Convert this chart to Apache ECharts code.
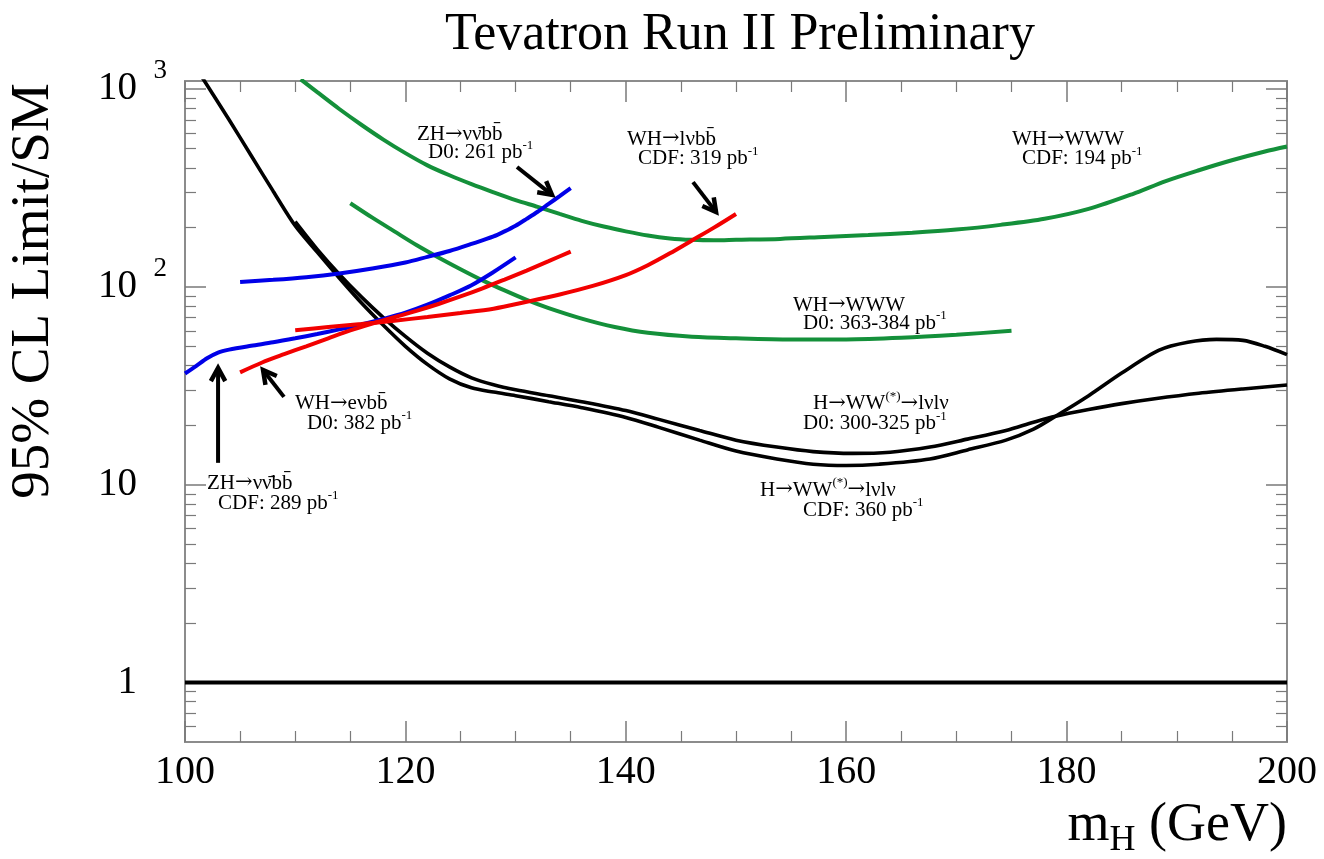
<!DOCTYPE html>
<html>
<head>
<meta charset="utf-8">
<script src="https://cdn.jsdelivr.net/npm/echarts@6.0.0/dist/echarts.min.js"></script>
<style>
  html, body { margin: 0; padding: 0; background: #ffffff; }
  #chart { width: 1324px; height: 859px; }
</style>
</head>
<body>
<div id="chart"></div>
<script>
// ---- Limit curves: Higgs mass (GeV) and 95% CL limit / SM ----
const massCdfHww  = [101.5, 104, 106, 108, 110, 112, 114, 116, 118, 120, 122, 124, 126, 128, 130, 133, 136, 140, 143, 146.7, 150, 153.7, 157, 160, 163, 167.6, 171, 174.5, 177, 179, 182, 185, 188.4, 191, 193.6, 196, 198, 200];
const limitCdfHww = [1160, 700, 462, 305, 204, 150, 111, 83.2, 64, 50.1, 40.6, 34.3, 30.9, 29.4, 28.2, 26.3, 24.5, 21.9, 19.5, 16.8, 14.8, 13.5, 12.7, 12.5, 12.7, 13.5, 15.0, 16.8, 19.1, 22.2, 28.2, 36.7, 47.9, 52.5, 54.3, 53.7, 50.1, 45.5];

const massD0Hww  = [110, 112, 114, 116, 118, 120, 122, 124, 126, 128, 130, 133, 136, 140, 143, 146.7, 150, 153.7, 157, 160.6, 164, 167.6, 171, 174.5, 177, 179, 182, 185, 188, 192, 196, 200];
const limitD0Hww = [214, 155, 116, 89.1, 70.0, 56.2, 46.2, 39.4, 34.7, 32.0, 30.2, 28.2, 26.3, 23.7, 21.4, 18.8, 16.8, 15.5, 14.7, 14.4, 14.6, 15.5, 17.0, 18.8, 20.7, 22.2, 24.0, 25.7, 27.2, 29.0, 30.5, 31.9];

const massCdfWww  = [110.5, 112, 114, 116, 118, 120, 122, 124, 126, 128, 130, 132, 134, 136, 138, 140, 142, 144, 146, 148, 150, 154, 158, 162, 166, 170, 174, 178, 182, 186, 189, 192, 195, 198, 200];
const limitCdfWww = [1122, 966, 794, 661, 556, 475, 412, 367, 331, 301, 275, 254, 234, 216, 202, 191, 182, 176, 173, 172, 173, 175, 179, 183, 188, 195, 206, 221, 248, 295, 343, 389, 437, 484, 513];

const massD0Www  = [115, 117, 119, 121, 123, 125, 127, 129, 131, 133, 136, 139, 142, 146, 150, 155, 160, 165, 170, 175];
const limitD0Www = [265, 224, 191, 163, 141, 123, 108, 96, 86, 78.2, 69.2, 62.7, 58.6, 56, 55, 54.3, 54.3, 55.3, 57.3, 60];

const massD0Zh  = [105, 108, 111, 114, 117, 120, 122, 124, 126, 128, 129, 130, 131, 132, 133, 134, 135];
const limitD0Zh = [106, 108.6, 112, 117, 124, 133, 142, 152, 165, 180, 191, 204, 221, 240, 263, 288, 316];

const massCdfZh  = [100, 101, 102, 103, 104, 106, 108, 110, 112, 114, 116, 118, 120, 122, 124, 126, 128, 130];
const limitCdfZh = [36.5, 39.8, 43.6, 46.6, 48.2, 50.4, 52.5, 55, 57.8, 61, 64.6, 68.9, 74.1, 81.3, 90.6, 102, 119, 141];

const massCdfWh  = [110, 113, 116, 119, 122, 125, 128, 131, 134, 137, 140, 142, 144, 146, 148, 150];
const limitCdfWh = [60.4, 62.7, 64.9, 67.5, 70.5, 73.8, 77.6, 84.1, 91.6, 101.2, 114.8, 128.8, 147.9, 171.8, 199.5, 233.9];

const massD0Wh  = [105, 107, 109, 111, 113, 115, 117, 119, 121, 123, 125, 127, 129, 131, 133, 135];
const limitD0Wh = [37, 41.5, 45.7, 50.1, 55, 60.3, 65.3, 70.3, 75.7, 82, 89.5, 98.4, 109, 121, 135, 151];

// Standard Model reference line
const massSm  = [100, 200];
const limitSm = [1, 1];

// ---- Axis ticks ----
const xTickStep = 20;
const yMajorTicks = [1, 10, 100, 1000];
const yMinorTicks = [0.6, 0.7, 0.8, 0.9, 2, 3, 4, 5, 6, 7, 8, 9, 20, 30, 40, 50, 60, 70, 80, 90, 200, 300, 400, 500, 600, 700, 800, 900];

// ---- Annotations (anchored in mass / limit coordinates) ----
const NUBAR = 'ν\u0304';
const BBAR = 'b\u0304';
const AR = '{ar|→}';
const noteText = [
  'ZH' + AR + 'ν' + NUBAR + 'b' + BBAR, 'D0: 261 pb{sup|-1}',
  'WH' + AR + 'lνb' + BBAR, 'CDF: 319 pb{sup|-1}',
  'WH' + AR + 'WWW', 'CDF: 194 pb{sup|-1}',
  'WH' + AR + 'WWW', 'D0: 363-384 pb{sup|-1}',
  'H' + AR + 'WW{sup|(*)}' + AR + 'lνlν', 'D0: 300-325 pb{sup|-1}',
  'H' + AR + 'WW{sup|(*)}' + AR + 'lνlν', 'CDF: 360 pb{sup|-1}',
  'WH' + AR + 'eνb' + BBAR, 'D0: 382 pb{sup|-1}',
  'ZH' + AR + 'ν' + NUBAR + 'b' + BBAR, 'CDF: 289 pb{sup|-1}'
];
const noteMass  = [121.05, 122.05, 140.11, 141.11, 175.05, 175.95, 155.17, 156.08, 156.99, 156.08, 152.18, 156.08, 109.98, 111.07, 102.0, 103.0];
const noteLimit = [590, 476, 560, 444, 560, 444, 81, 65.7, 25.6, 20.3, 9.4, 7.45, 25.6, 20.5, 10.2, 8.08];

const arrowFromMass  = [130.13, 146.10, 108.98, 103.0];
const arrowFromLimit = [404, 339, 27.8, 12.9];
const arrowToMass    = [133.30, 148.19, 107.08, 103.0];
const arrowToLimit   = [292, 239, 38.0, 38.9];

// ---- Styling ----
const FONT = '"Liberation Serif", "Times New Roman", "DejaVu Serif", serif';
const ARROW_FONT = '"DejaVu Serif", "Liberation Serif", serif';
const GREEN = '#14903a';
const BLUE = '#0000e8';
const RED = '#f20000';
const BLACK = '#000000';
const TICK_COLOR = '#7a7a7a';

const zip = (xs, ys) => xs.map((x, i) => [x, ys[i]]);

function curve(name, xs, ys, color, width) {
  return {
    type: 'line',
    name: name,
    data: zip(xs, ys),
    symbol: 'none',
    showSymbol: false,
    smooth: 0.3,
    clip: true,
    silent: true,
    lineStyle: { color: color, width: width || 4 },
    z: 3
  };
}

function xAxisDef(position, showLabel) {
  return {
    type: 'value',
    position: position,
    min: 100,
    max: 200,
    interval: xTickStep,
    axisLine: { show: false },
    axisTick: { inside: true, length: 21, lineStyle: { color: TICK_COLOR, width: 1.5 } },
    minorTick: { show: true, splitNumber: 4, length: 11, lineStyle: { color: TICK_COLOR, width: 1.2 } },
    splitLine: { show: false },
    minorSplitLine: { show: false },
    axisLabel: {
      show: showLabel,
      fontFamily: FONT,
      fontSize: 40,
      color: '#000',
      margin: 10
    }
  };
}

function yLabel(v) {
  const e = Math.round(Math.log10(v));
  if (e >= 2) return '{b|10}{e|' + e + '}';
  return '{b|' + Math.round(v) + '}{e| }';
}

function yAxisDef(position, ticks, length, showLabel) {
  return {
    type: 'log',
    logBase: 10,
    position: position,
    min: 0.5,
    max: 1100,
    axisLine: { show: false },
    axisTick: {
      inside: true,
      length: length,
      customValues: ticks,
      lineStyle: { color: TICK_COLOR, width: length > 15 ? 1.5 : 1.2 }
    },
    minorTick: { show: false },
    splitLine: { show: false },
    axisLabel: showLabel ? {
      show: true,
      customValues: yMajorTicks,
      formatter: yLabel,
      margin: 18,
      color: '#000',
      rich: {
        b: { fontFamily: FONT, fontSize: 39, color: '#000', lineHeight: 64 },
        e: { fontFamily: FONT, fontSize: 27, color: '#000', verticalAlign: 'top', lineHeight: 27, width: 16, padding: [0, 0, 0, 14] }
      }
    } : { show: false }
  };
}

const noteRich = {
  sup: { fontFamily: FONT, fontSize: 13, color: '#000', verticalAlign: 'top', lineHeight: 13 },
  ar: { fontFamily: ARROW_FONT, fontSize: 21, color: '#000' }
};

const chart = echarts.init(document.getElementById('chart'), null, { renderer: 'canvas' });

chart.setOption({
  animation: false,
  backgroundColor: '#ffffff',
  grid: {
    left: 185,
    right: 37,
    top: 81,
    bottom: 117,
    show: true,
    borderColor: '#8c8c8c',
    borderWidth: 2,
    backgroundColor: 'transparent',
    containLabel: false,
    outerBoundsMode: 'none'
  },
  xAxis: [xAxisDef('bottom', true), xAxisDef('top', false)],
  yAxis: [
    yAxisDef('left', yMajorTicks, 21, true),
    yAxisDef('left', yMinorTicks, 11, false),
    yAxisDef('right', yMajorTicks, 21, false),
    yAxisDef('right', yMinorTicks, 11, false)
  ],
  graphic: [
    {
      type: 'text', x: 740, y: 35, silent: true,
      style: { text: 'Tevatron Run II Preliminary', fontFamily: FONT, fontSize: 52, fill: '#000', align: 'center', verticalAlign: 'middle' }
    },
    {
      type: 'text', x: 34, y: 291, rotation: Math.PI / 2, silent: true,
      style: { text: '95% CL Limit/SM', fontFamily: FONT, fontSize: 55, fill: '#000', align: 'center', verticalAlign: 'middle' }
    },
    {
      type: 'text', x: 1287, y: 826, silent: true,
      style: {
        text: 'm{sub|H} (GeV)', fontFamily: FONT, fontSize: 54, fill: '#000', align: 'right', verticalAlign: 'middle', lineHeight: 66,
        rich: { sub: { fontFamily: FONT, fontSize: 36, fill: '#000', verticalAlign: 'bottom', lineHeight: 36 } }
      }
    }
  ],
  series: [
    curve('SM', massSm, limitSm, BLACK, 4),
    curve('CDF WH→WWW 194', massCdfWww, limitCdfWww, GREEN),
    curve('D0 WH→WWW 363-384', massD0Www, limitD0Www, GREEN),
    curve('CDF H→WW 360', massCdfHww, limitCdfHww, BLACK, 3.6),
    curve('D0 H→WW 300-325', massD0Hww, limitD0Hww, BLACK, 3.6),
    curve('D0 ZH→vvbb 261', massD0Zh, limitD0Zh, BLUE),
    curve('CDF ZH→vvbb 289', massCdfZh, limitCdfZh, BLUE),
    curve('CDF WH→lvbb 319', massCdfWh, limitCdfWh, RED),
    curve('D0 WH→evbb 382', massD0Wh, limitD0Wh, RED),
    {
      type: 'custom',
      name: 'arrows',
      silent: true,
      z: 5,
      encode: { x: [0, 2], y: [1, 3] },
      data: arrowFromMass.map((m, i) => [m, arrowFromLimit[i], arrowToMass[i], arrowToLimit[i]]),
      renderItem: function (params, api) {
        const p1 = api.coord([api.value(0), api.value(1)]);
        const p2 = api.coord([api.value(2), api.value(3)]);
        const ang = Math.atan2(p2[1] - p1[1], p2[0] - p1[0]);
        const head = 15, spread = 0.5;
        const a1 = [p2[0] - head * Math.cos(ang - spread), p2[1] - head * Math.sin(ang - spread)];
        const a2 = [p2[0] - head * Math.cos(ang + spread), p2[1] - head * Math.sin(ang + spread)];
        return {
          type: 'group',
          children: [
            { type: 'line', shape: { x1: p1[0], y1: p1[1], x2: p2[0], y2: p2[1] }, style: { stroke: '#000', lineWidth: 4 } },
            { type: 'polyline', shape: { points: [a1, p2, a2] }, style: { stroke: '#000', lineWidth: 4.5, fill: null, lineJoin: 'miter' } }
          ]
        };
      }
    },
    {
      type: 'custom',
      name: 'notes',
      silent: true,
      z: 6,
      data: zip(noteMass, noteLimit),
      renderItem: function (params, api) {
        const p = api.coord([api.value(0), api.value(1)]);
        return {
          type: 'text',
          x: p[0],
          y: p[1],
          style: {
            text: noteText[params.dataIndex],
            fontFamily: FONT,
            fontSize: 21,
            fill: '#000',
            align: 'left',
            verticalAlign: 'middle',
            lineHeight: 27,
            rich: noteRich
          }
        };
      }
    }
  ]
});
</script>
</body>
</html>
